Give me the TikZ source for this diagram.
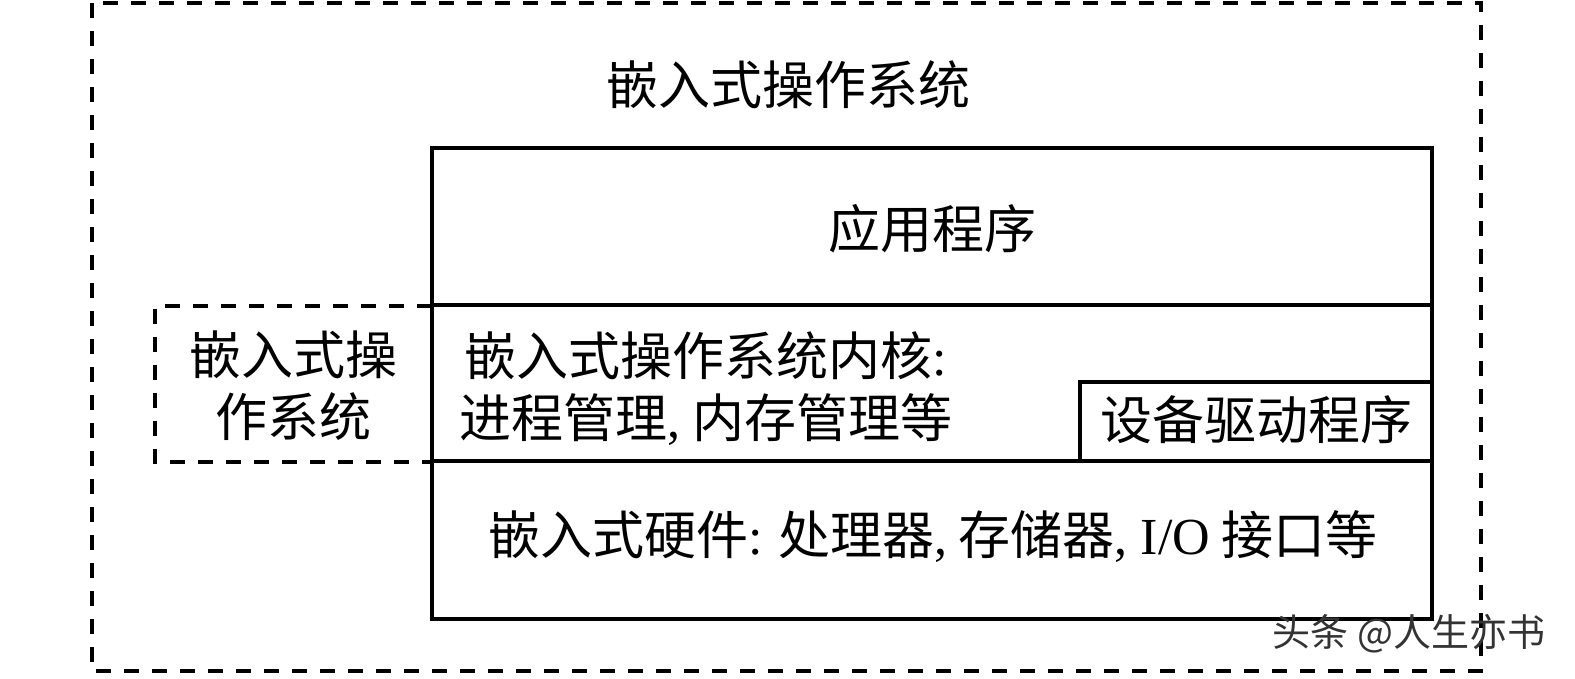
\documentclass[tikz,border=0pt]{standalone}
\usepackage{fontspec}
\setmainfont{Liberation Serif}
\newfontfamily\cjk{Noto Sans CJK SC}
\begin{document}
\begin{tikzpicture}[x=1pt,y=-1pt,line width=3.4pt,
  dashbox/.style={dash pattern=on 15pt off 13pt},
  lbl/.style={font=\fontsize{52}{62}\selectfont\cjk, inner sep=0pt, align=center},
  wmark/.style={font=\fontsize{38}{44}\selectfont\cjk, inner sep=0pt, text=black!80}]
\useasboundingbox (0,0) rectangle (1575,679);
% outer dashed frame
\draw[dashbox] (92,3) rectangle (1481,671);
% main stack
\draw (432,148) rectangle (1432,619);
\draw (432,305) -- (1432,305);
\draw (432,461) -- (1432,461);
% device driver box
\draw (1080,461) |- (1432,382);
% left dashed box
\draw[dashbox] (432,306) -| (155,462) -- (432,462);
% labels
\node[lbl] (title) at (788,85) {嵌入式操作系统};
\node[lbl] (app) at (932,229) {应用程序};
\node[lbl] (los) at (293,386) {嵌入式操\\作系统};
\node[lbl] (kern) at (706,389) {嵌入式操作系统内核{\rmfamily:}\\进程管理{\rmfamily,} 内存管理等};
\node[lbl] (drv) at (1256,420) {设备驱动程序};
\node[lbl] (hw) at (933,537) {嵌入式硬件{\rmfamily:} 处理器{\rmfamily,} 存储器{\rmfamily, I/O} 接口等};
\node[wmark] (wm) at (1409,634) {头条 @人生亦书};
\end{tikzpicture}
\end{document}
